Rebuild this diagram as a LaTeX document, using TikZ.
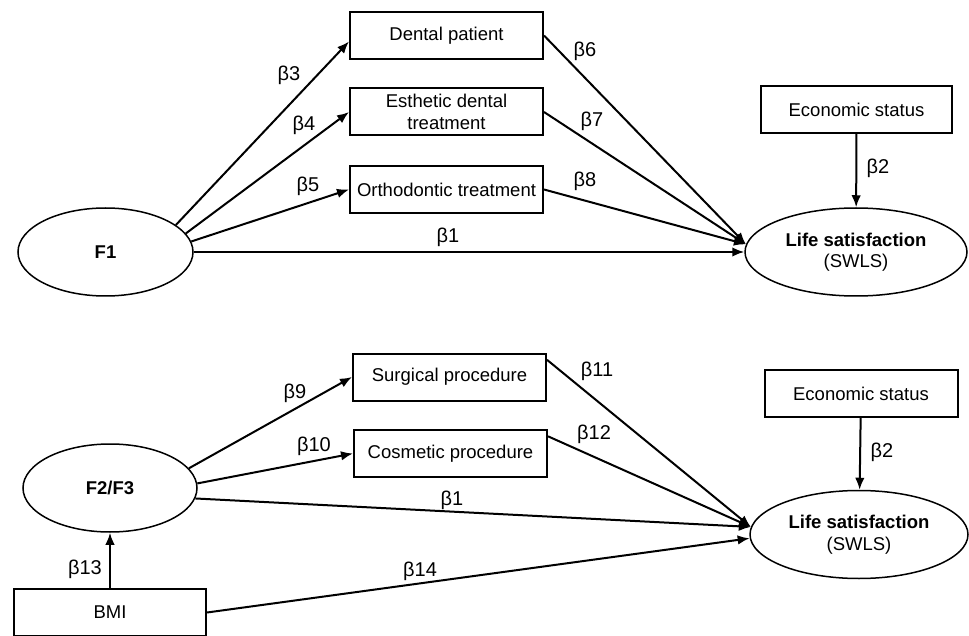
\documentclass[tikz,border=0pt]{standalone}
\usepackage{fontspec}
\setmainfont{Liberation Sans}
\usetikzlibrary{shapes.geometric,arrows.meta}

\begin{document}
\begin{tikzpicture}[x=1pt,y=-1pt,
    box/.style={draw,line width=2pt,minimum width=193pt,minimum height=47pt,inner sep=0pt,align=center,font=\fontsize{18.5}{21.5}\selectfont},
    latent/.style={draw,ellipse,line width=1.5pt,minimum height=88pt,inner sep=0pt,align=center,font=\fontsize{18.5}{21.5}\selectfont},
    effect/.style={-{Latex[length=12pt,width=9.5pt]},line width=2pt},
    coef/.style={inner sep=0pt,font=\fontsize{20}{20}\selectfont}]
      \useasboundingbox (0,0) rectangle (969,636);
      % upper model
      \node[latent,minimum width=175pt] (f1) at (105.5,252) {\textbf{F1}};
      \node[box] (dental) at (446.5,35.5) {Dental patient};
      \node[box] (esth) at (446.5,112) {Esthetic dental\\treatment};
      \node[box] (ortho) at (446.5,189.5) {Orthodontic treatment};
      \node[box,minimum width=191pt] (econ1) at (856.5,109.5) {Economic status};
      \node[latent,minimum width=222pt] (ls1) at (856,252) {\textbf{Life satisfaction}\\(SWLS)};
      \draw[effect] (f1.21) -- ([yshift=-6pt]dental.west);
      \draw[effect] (f1.13) -- (esth.west);
      \draw[effect] (f1.7) -- (ortho.west);
      \draw[effect] (f1.east) -- (ls1.west);
      \draw[effect] (dental.east) -- (ls1.176);
      \draw[effect] (esth.east) -- (ls1.176);
      \draw[effect] (ortho.east) -- (ls1.176);
      \draw[effect] (econ1) -- (ls1);
      \node[coef] (b3) at (289,75) {β3};
      \node[coef] (b4) at (304,125) {β4};
      \node[coef] (b5) at (308,186) {β5};
      \node[coef] (b1a) at (448,237) {β1};
      \node[coef] (b6) at (585,51) {β6};
      \node[coef] (b7) at (592,121) {β7};
      \node[coef] (b8) at (585,181) {β8};
      \node[coef] (b2a) at (878,168) {β2};
      % lower model
      \node[latent,minimum width=174pt] (f23) at (110,488) {\textbf{F2/F3}};
      \node[box] (surg) at (449.5,377) {Surgical procedure};
      \node[box] (cosm) at (450.5,453.5) {Cosmetic procedure};
      \node[box] (econ2) at (861,393.5) {Economic status};
      \node[latent,minimum width=218pt] (ls2) at (859,534.5) {\textbf{Life satisfaction}\\(SWLS)};
      \node[box,minimum width=192pt] (bmi) at (110,612.5) {BMI};
      \draw[effect] (f23.14) -- (surg.west);
      \draw[effect] (f23.3) -- (cosm.west);
      \draw[effect] (f23.-7) -- (ls2.176);
      \draw[effect] (surg.10) -- (ls2.176);
      \draw[effect] (cosm.10) -- (ls2.176);
      \draw[effect] (bmi.east) -- (ls2.182);
      \draw[effect] (bmi) -- (f23);
      \draw[effect] (econ2) -- (ls2);
      \node[coef] (b9) at (295,393) {β9};
      \node[coef] (b10) at (314,446) {β10};
      \node[coef] (b1b) at (452,500) {β1};
      \node[coef] (b11) at (597,371) {β11};
      \node[coef] (b12) at (594,434) {β12};
      \node[coef] (b2b) at (882,452) {β2};
      \node[coef] (b13) at (85,569) {β13};
      \node[coef] (b14) at (420,571) {β14};
    \end{tikzpicture}
\end{document}
